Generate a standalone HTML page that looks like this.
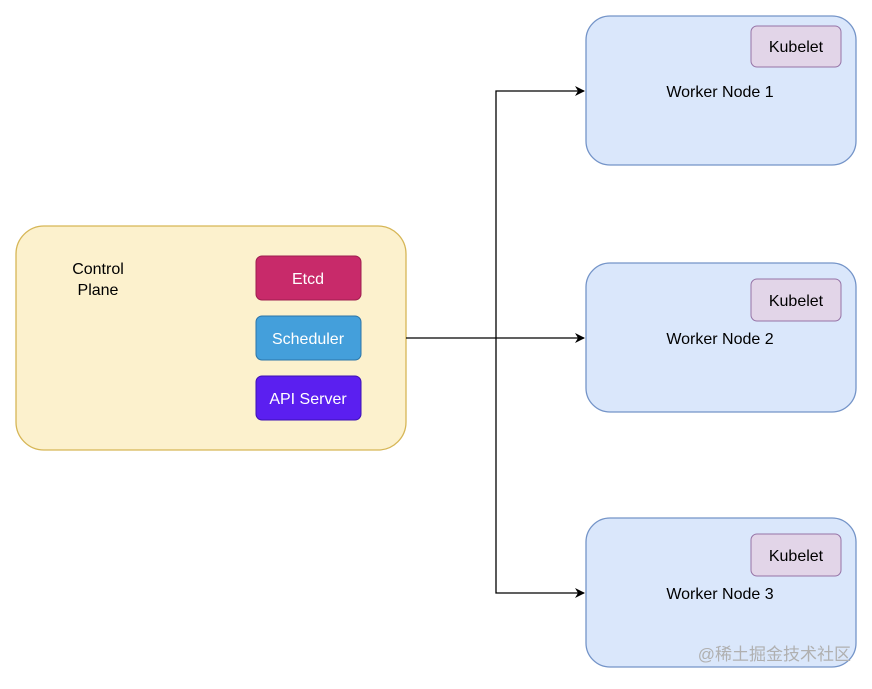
<!DOCTYPE html>
<html><head><meta charset="utf-8"><style>
body{margin:0;background:#fff}
svg text{font-family:"Liberation Sans",Arial,sans-serif;font-size:16px}
</style></head><body>
<svg width="872" height="684" viewBox="0 0 872 684" xmlns="http://www.w3.org/2000/svg">
<defs><marker id="a" markerWidth="10" markerHeight="10" refX="9" refY="5" orient="auto" markerUnits="userSpaceOnUse"><path d="M0,0 L10,5 L0,10 L3,5 Z" fill="#000"/></marker></defs>
<rect x="16" y="226" width="390" height="224" rx="28" fill="#fcf1cd" stroke="#d6b656" stroke-width="1.3"/>
<text x="98" y="274" text-anchor="middle">Control</text>
<text x="98" y="295" text-anchor="middle">Plane</text>
<rect x="256" y="256" width="105" height="44" rx="6" fill="#c82a6a" stroke="#9e1e4e"/>
<text x="308" y="284" text-anchor="middle" fill="#fff">Etcd</text>
<rect x="256" y="316" width="105" height="44" rx="6" fill="#449fdb" stroke="#2c75a8"/>
<text x="308" y="344" text-anchor="middle" fill="#fff">Scheduler</text>
<rect x="256" y="376" width="105" height="44" rx="6" fill="#5b1ff0" stroke="#3d10b5"/>
<text x="308" y="404" text-anchor="middle" fill="#fff">API Server</text>
<g fill="none" stroke="#000" stroke-width="1.3">
<path d="M406,338 H584" marker-end="url(#a)"/>
<path d="M496,338 V91 H584" marker-end="url(#a)"/>
<path d="M496,338 V593 H584" marker-end="url(#a)"/>
</g>
<g>
<rect x="586" y="16" width="270" height="149" rx="24" fill="#dae7fb" stroke="#7494c8" stroke-width="1.3"/>
<rect x="751" y="26" width="90" height="41" rx="6" fill="#e2d5e8" stroke="#9673a6"/>
<text x="796" y="52" text-anchor="middle">Kubelet</text>
<text x="720" y="97" text-anchor="middle">Worker Node 1</text>
<rect x="586" y="263" width="270" height="149" rx="24" fill="#dae7fb" stroke="#7494c8" stroke-width="1.3"/>
<rect x="751" y="279" width="90" height="42" rx="6" fill="#e2d5e8" stroke="#9673a6"/>
<text x="796" y="306" text-anchor="middle">Kubelet</text>
<text x="720" y="344" text-anchor="middle">Worker Node 2</text>
<rect x="586" y="518" width="270" height="149" rx="24" fill="#dae7fb" stroke="#7494c8" stroke-width="1.3"/>
<rect x="751" y="534" width="90" height="42" rx="6" fill="#e2d5e8" stroke="#9673a6"/>
<text x="796" y="561" text-anchor="middle">Kubelet</text>
<text x="720" y="599" text-anchor="middle">Worker Node 3</text>
</g>
<text x="851" y="660" text-anchor="end" fill="#b0b0b0" style="font-family:'Liberation Sans','Noto Sans CJK SC',sans-serif;font-size:17px">@稀土掘金技术社区</text>
</svg>
</body></html>
